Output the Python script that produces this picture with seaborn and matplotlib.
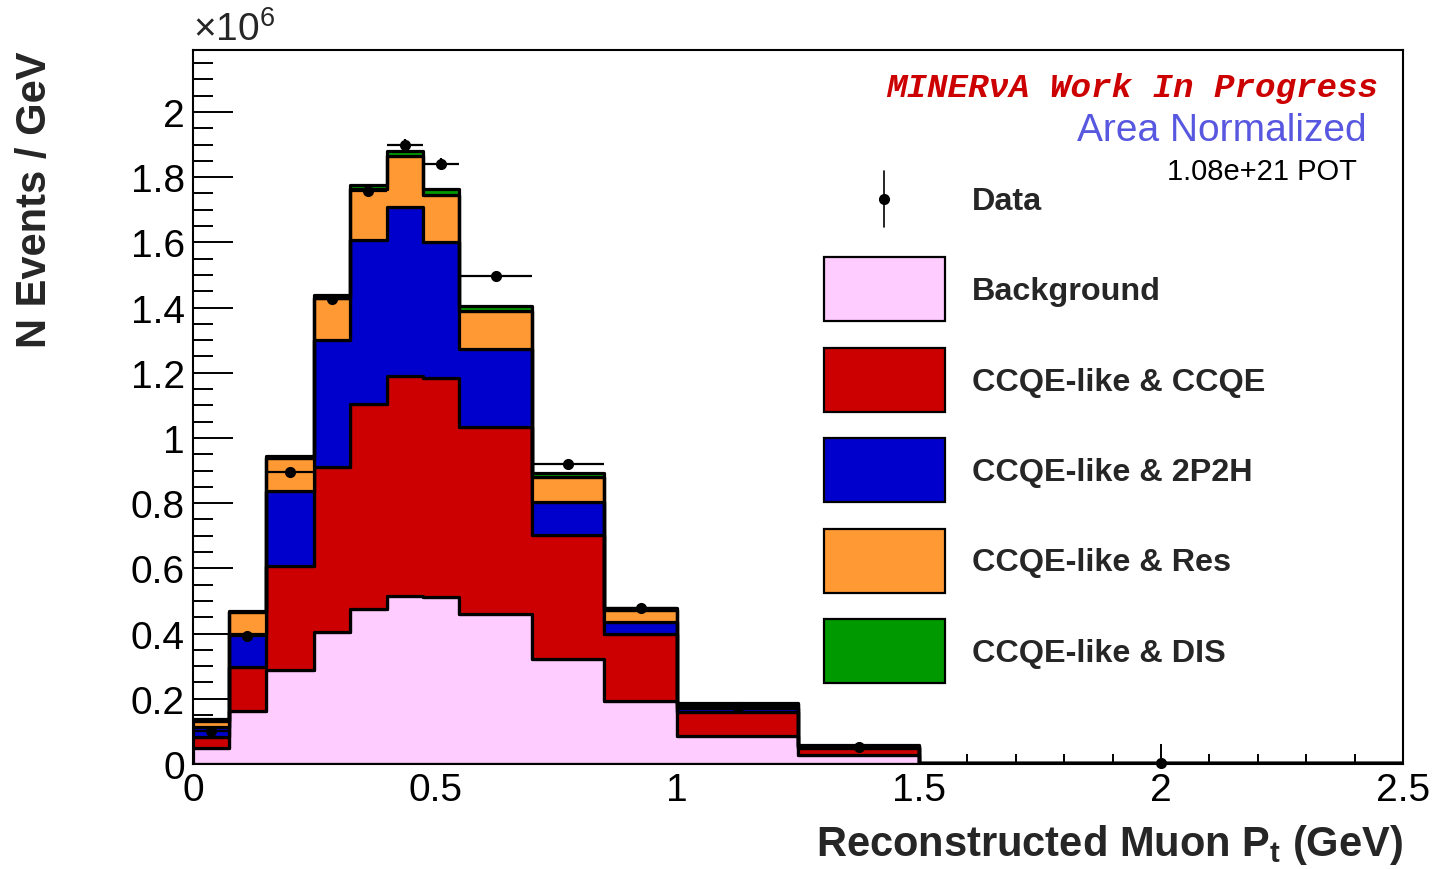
import numpy as np
import pandas as pd
import matplotlib
matplotlib.use("Agg")
import matplotlib.pyplot as plt
from matplotlib.lines import Line2D
from matplotlib.patches import Patch
from matplotlib.legend_handler import HandlerBase
from matplotlib.ticker import MultipleLocator, FuncFormatter
import seaborn as sns

# Reconstructed muon transverse momentum binning (GeV)
bin_edges = [0.0, 0.075, 0.15, 0.25, 0.325, 0.4, 0.475, 0.55, 0.7, 0.85, 1.0, 1.25, 1.5, 2.5]

# Event rates per GeV, in units of 10^6
background = [0.049, 0.163, 0.288, 0.405, 0.475, 0.515, 0.513, 0.460, 0.322, 0.193, 0.086, 0.028, 0.001]
ccqe       = [0.033, 0.135, 0.319, 0.505, 0.629, 0.675, 0.671, 0.574, 0.381, 0.207, 0.072, 0.020, 0.001]
two_p_two_h = [0.033, 0.102, 0.230, 0.390, 0.503, 0.518, 0.416, 0.239, 0.101, 0.035, 0.014, 0.004, 0.0002]
resonant   = [0.018, 0.066, 0.101, 0.130, 0.157, 0.157, 0.145, 0.117, 0.076, 0.037, 0.012, 0.004, 0.0003]
dis        = [0.004, 0.004, 0.007, 0.010, 0.012, 0.015, 0.019, 0.015, 0.013, 0.008, 0.004, 0.001, 0.0001]

data_values = [0.100, 0.392, 0.896, 1.426, 1.759, 1.899, 1.840, 1.496, 0.920, 0.478, 0.175, 0.052, 0.003]
data_errors = [0.006, 0.010, 0.012, 0.016, 0.018, 0.019, 0.018, 0.013, 0.010, 0.007, 0.003, 0.002, 0.001]

component_names = ["Background", "CCQE-like & CCQE", "CCQE-like & 2P2H",
                   "CCQE-like & Res", "CCQE-like & DIS"]
component_values = [background, ccqe, two_p_two_h, resonant, dis]
component_colors = ["#ffccff", "#cc0000", "#0000cc", "#ff9933", "#009900"]

edges = np.array(bin_edges)
centers = 0.5 * (edges[:-1] + edges[1:])
half_widths = 0.5 * (edges[1:] - edges[:-1])

rows = []
for name, vals in zip(component_names, component_values):
    for c, v in zip(centers, vals):
        rows.append({"pt": c, "rate": v, "component": name})
mc = pd.DataFrame(rows)

sns.set_theme(style="ticks")
plt.rcParams["font.family"] = ["Liberation Sans", "DejaVu Sans"]
plt.rcParams["mathtext.fontset"] = "custom"
plt.rcParams["mathtext.rm"] = "Liberation Sans"
plt.rcParams["mathtext.bf"] = "Liberation Sans:bold"

W, H = 1438, 870
fig = plt.figure(figsize=(W / 100, H / 100), dpi=100)
ax = fig.add_axes([193 / W, (H - 765) / H, 1210 / W, (765 - 51) / H])

# seaborn stacks the first hue level on top, so list the bottom layer last
stack_order = component_names[::-1]
palette = dict(zip(component_names, component_colors))
sns.histplot(data=mc, x="pt", weights="rate", hue="component", hue_order=stack_order,
             palette=palette, bins=list(bin_edges), multiple="stack", element="step",
             fill=True, alpha=1, edgecolor="black", linewidth=2.3, legend=False, ax=ax)

ax.errorbar(centers, data_values, xerr=half_widths, yerr=data_errors, fmt="o",
            color="black", ms=7, elinewidth=1.6, capsize=0, zorder=10, clip_on=False)

ax.set_xlim(0, 2.5)
ax.set_ylim(0, 2.19)
ax.set_xlabel("")
ax.set_ylabel("")

for side in ["left", "right", "top", "bottom"]:
    ax.spines[side].set_visible(True)
    ax.spines[side].set_linewidth(1.5)
    ax.spines[side].set_color("black")

ax.xaxis.set_major_locator(MultipleLocator(0.5))
ax.xaxis.set_minor_locator(MultipleLocator(0.1))
ax.yaxis.set_major_locator(MultipleLocator(0.2))
ax.yaxis.set_minor_locator(MultipleLocator(0.05))
fmt = FuncFormatter(lambda v, p: f"{v:g}")
ax.xaxis.set_major_formatter(fmt)
ax.yaxis.set_major_formatter(fmt)

ax.tick_params(axis="both", which="both", direction="in", colors="black",
               top=False, right=False, labelsize=28, width=1.4)
ax.tick_params(axis="y", which="major", length=29, pad=6)
ax.tick_params(axis="y", which="minor", length=14.5)
ax.tick_params(axis="x", which="major", length=14.5, pad=6)
ax.tick_params(axis="x", which="minor", length=7.2)


def fx(px):
    return px / W


def fy(py):
    return 1 - py / H


fig.text(fx(193), fy(30), "×10$^{6}$", fontsize=28, ha="left", va="center")
fig.text(fx(1403), fy(845), r"Reconstructed Muon P$_{\mathbf{t}}$ (GeV)",
         fontsize=30, fontweight="bold", ha="right", va="center")
fig.text(fx(35), fy(52), "N Events / GeV", fontsize=30, fontweight="bold",
         rotation=90, ha="center", va="top")

fig.text(fx(1378), fy(88), "MINERνA Work In Progress", color="#cc0000",
         family=["Liberation Mono", "DejaVu Sans Mono"], fontweight="bold",
         fontstyle="italic", fontsize=24.6, ha="right", va="center")
fig.text(fx(1367), fy(131), "Area Normalized", color="#5757e0", fontsize=28,
         ha="right", va="center")
fig.text(fx(1357), fy(172), "1.08e+21 POT", color="black", fontsize=21,
         ha="right", va="center")


class DataMarkerHandler(HandlerBase):
    def create_artists(self, legend, orig_handle, xdescent, ydescent,
                       width, height, fontsize, trans):
        cx = 0.5 * width - xdescent
        cy = 0.5 * height - ydescent
        half = 0.44 * height
        bar = Line2D([cx, cx], [cy - half, cy + half], color="black", lw=1.2,
                     transform=trans)
        dot = Line2D([cx], [cy], marker="o", ms=7, color="black", linestyle="none",
                     transform=trans)
        return [bar, dot]


data_proxy = Line2D([], [], marker="o", color="black", linestyle="none")
handles = [data_proxy] + [Patch(facecolor=c, edgecolor="black", linewidth=1.6)
                          for c in component_colors]
labels = ["Data"] + component_names
leg = ax.legend(handles, labels, handler_map={Line2D: DataMarkerHandler()},
                loc="upper left", bbox_to_anchor=(fx(824), fy(168)),
                bbox_transform=fig.transFigure, frameon=False, borderpad=0,
                borderaxespad=0, handlelength=3.73, handleheight=2.66,
                labelspacing=0.82, handletextpad=0.83,
                prop={"size": 23.3, "weight": "bold"})

fig.savefig("out.png", dpi=100)
